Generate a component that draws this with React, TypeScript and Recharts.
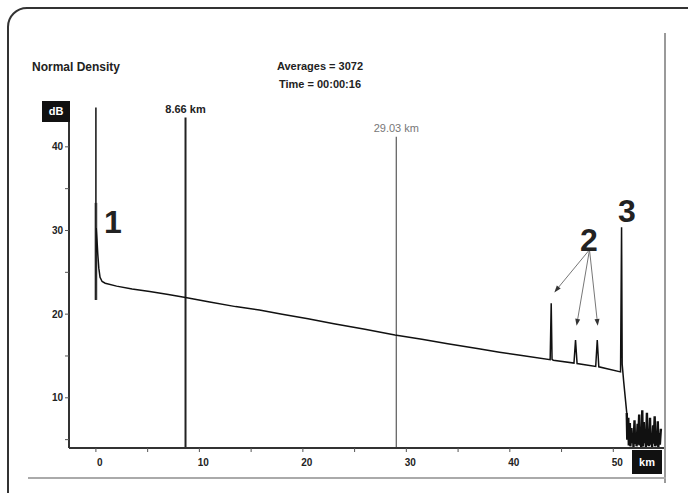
import { Label, Line, LineChart, ReferenceLine, XAxis, YAxis } from "recharts"

// OTDR trace, distance in km / level in dB
const traceKm = [
  0, 0, 0.03, 0.1, 0.18, 0.28, 0.4, 0.6, 0.9, 2, 3.5, 5.2, 7, 8.66, 11, 13.5, 15.8, 18, 20.5, 23, 26, 28.9,
  31.5, 34, 37, 39, 41, 43.9, 44.0, 44.08, 44.2, 46.2, 46.35, 46.5, 48.3, 48.45, 48.6, 50.7, 50.8, 50.86, 51.0,
  51.3,
]
const traceDb = [
  44.7, 21.7, 30.3, 29.0, 27.2, 25.5, 24.4, 23.9, 23.7, 23.35, 23.0, 22.7, 22.35, 22.0, 21.45, 20.9, 20.5, 20.0,
  19.45, 18.85, 18.2, 17.5, 17.0, 16.45, 15.85, 15.45, 15.1, 14.55, 21.3, 14.6, 14.5, 14.15, 16.9, 14.1, 13.75,
  16.9, 13.7, 13.1, 30.4, 14.0, 12.0, 8.2,
]
// noise floor after the fibre end
const noiseKm = [
  51.3, 51.35, 51.45, 51.5, 51.6, 51.65, 51.75, 51.8, 51.9, 51.95, 52.05, 52.1, 52.2, 52.25, 52.35, 52.4, 52.5,
  52.55, 52.65, 52.7, 52.8, 52.85, 52.95, 53.0, 53.1, 53.15, 53.25, 53.3, 53.4, 53.45, 53.55, 53.6, 53.7, 53.75,
  53.85, 53.9, 54.0, 54.05, 54.15, 54.2, 54.3, 54.35, 54.45, 54.5, 54.6,
]
const noiseDb = [
  8.2, 5.0, 7.6, 4.3, 7.0, 4.2, 6.4, 4.6, 5.6, 4.1, 7.3, 4.5, 5.8, 4.2, 6.9, 4.4, 8.0, 4.3, 6.2, 4.1, 8.5, 4.2,
  7.1, 4.6, 5.4, 4.1, 8.2, 4.3, 6.0, 4.2, 7.6, 4.4, 5.2, 4.1, 6.7, 4.5, 7.8, 4.2, 5.9, 4.3, 7.2, 4.1, 5.8, 4.4,
  6.3,
]
const launchKm = [0, 0]
const launchDb = [33.3, 21.7]

const markerKm = [8.66, 29.03]
const markerTopDb = [43.5, 41.2]
const markerLabels = ["8.66 km", "29.03 km"]

// event "2" arrows: from label to each reflective event
const arrowFrom = { km: 47.7, db: 27.7 }
const arrowToKm = [44.3, 46.45, 48.5]
const arrowToDb = [22.6, 18.6, 18.6]

const xTicks = [0, 5, 10, 15, 20, 25, 30, 35, 40, 45, 50]
const yTicks = [5, 10, 15, 20, 25, 30, 35, 40]

const trace = traceKm.map((km, i) => ({ km, db: traceDb[i] }))
const noise = noiseKm.map((km, i) => ({ km, db: noiseDb[i] }))
const launch = launchKm.map((km, i) => ({ km, db: launchDb[i] }))

const font = "'Liberation Sans Narrow', 'Liberation Sans', Arial, sans-serif"

function Arrow(props: any) {
  const { x1, y1, x2, y2 } = props
  const a = Math.atan2(y2 - y1, x2 - x1)
  const len = 7
  const w = 2.5
  const bx = x2 - Math.cos(a) * len
  const by = y2 - Math.sin(a) * len
  const p1 = `${bx - Math.sin(a) * w},${by + Math.cos(a) * w}`
  const p2 = `${bx + Math.sin(a) * w},${by - Math.cos(a) * w}`
  return (
    <g>
      <line x1={x1} y1={y1} x2={bx} y2={by} stroke="#777" strokeWidth={1} />
      <polygon points={`${x2},${y2} ${p1} ${p2}`} fill="#333" />
    </g>
  )
}

const abs = (s: React.CSSProperties): React.CSSProperties => ({ position: "absolute", ...s })

export default function App() {
  return (
    <div
      style={{
        position: "fixed",
        left: 0,
        top: 0,
        width: 688,
        height: 493,
        overflow: "hidden",
        background: "#fff",
        fontFamily: font,
        color: "#222",
      }}
    >
      <div style={abs({ left: 7, top: 7, width: 700, height: 520, border: "2px solid #333", borderRadius: 20 })} />
      <div style={abs({ left: 664, top: 33, width: 2, height: 450, background: "#9a9a9a" })} />
      <div style={abs({ left: 28, top: 477, width: 638, height: 2, background: "#aaa" })} />

      <div style={abs({ left: 0, top: 0 })}>
        <LineChart width={688} height={493} margin={{ top: 105, right: 24, bottom: 15, left: 29 }}>
          <XAxis
            type="number"
            dataKey="km"
            domain={[-2.6, 54.9]}
            allowDataOverflow
            ticks={xTicks}
            tickFormatter={(v) => (v % 10 === 0 ? String(v) : "")}
            height={30}
            tickSize={4}
            tickMargin={7}
            axisLine={{ stroke: "#333", strokeWidth: 2 }}
            tickLine={{ stroke: "#555" }}
            tick={{ fill: "#222", fontSize: 10, fontWeight: 700, dx: 4 }}
          />
          <YAxis
            type="number"
            dataKey="db"
            domain={[4, 45]}
            allowDataOverflow
            ticks={yTicks}
            tickFormatter={(v) => (v % 10 === 0 ? String(v) : "")}
            width={40}
            tickSize={4}
            tickMargin={2}
            axisLine={{ stroke: "#333", strokeWidth: 2 }}
            tickLine={{ stroke: "#555" }}
            tick={{ fill: "#222", fontSize: 10, fontWeight: 700 }}
          />
          {markerKm.map((km, i) => (
            <ReferenceLine
              key={km}
              segment={[
                { x: km, y: markerTopDb[i] },
                { x: km, y: 4 },
              ]}
              stroke={i === 0 ? "#222" : "#666"}
              strokeWidth={i === 0 ? 2 : 1.3}
            >
              <Label
                value={markerLabels[i]}
                position="top"
                offset={5}
                fill={i === 0 ? "#222" : "#777"}
                fontSize={11}
                fontWeight={i === 0 ? 700 : 400}
              />
            </ReferenceLine>
          ))}
          <Line
            data={launch}
            dataKey="db"
            type="linear"
            stroke="#888"
            strokeWidth={3}
            dot={false}
            isAnimationActive={false}
          />
          <Line
            data={trace}
            dataKey="db"
            type="linear"
            stroke="#111"
            strokeWidth={1.5}
            dot={false}
            isAnimationActive={false}
          />
          <Line
            data={noise}
            dataKey="db"
            type="linear"
            stroke="#111"
            strokeWidth={2.4}
            dot={false}
            isAnimationActive={false}
          />
          {arrowToKm.map((km, i) => (
            <ReferenceLine
              key={km}
              segment={[
                { x: arrowFrom.km, y: arrowFrom.db },
                { x: km, y: arrowToDb[i] },
              ]}
              shape={Arrow}
            />
          ))}
        </LineChart>
      </div>

      <div style={abs({ left: 32, top: 60, fontSize: 12, fontWeight: 700, whiteSpace: "nowrap" })}>Normal Density</div>
      <div style={abs({ left: 260, width: 120, top: 60, fontSize: 11, fontWeight: 700, textAlign: "center" })}>
        Averages = 3072
      </div>
      <div style={abs({ left: 260, width: 120, top: 78, fontSize: 11, fontWeight: 700, textAlign: "center" })}>
        Time = 00:00:16
      </div>

      <div
        style={abs({
          left: 42,
          top: 101,
          width: 28,
          height: 21,
          background: "#111",
          color: "#fff",
          fontSize: 11,
          fontWeight: 700,
          lineHeight: "21px",
          textAlign: "center",
        })}
      >
        dB
      </div>
      <div
        style={abs({
          left: 632,
          top: 450,
          width: 30,
          height: 24,
          background: "#111",
          color: "#fff",
          fontSize: 11,
          fontWeight: 700,
          lineHeight: "24px",
          textAlign: "center",
        })}
      >
        km
      </div>

      <div style={abs({ left: 104, top: 204, fontSize: 32, fontWeight: 700, fontFamily: "'Liberation Sans', Arial, sans-serif" })}>1</div>
      <div style={abs({ left: 580, top: 222, fontSize: 32, fontWeight: 700, fontFamily: "'Liberation Sans', Arial, sans-serif" })}>2</div>
      <div style={abs({ left: 618, top: 193, fontSize: 32, fontWeight: 700, fontFamily: "'Liberation Sans', Arial, sans-serif" })}>3</div>
    </div>
  )
}
